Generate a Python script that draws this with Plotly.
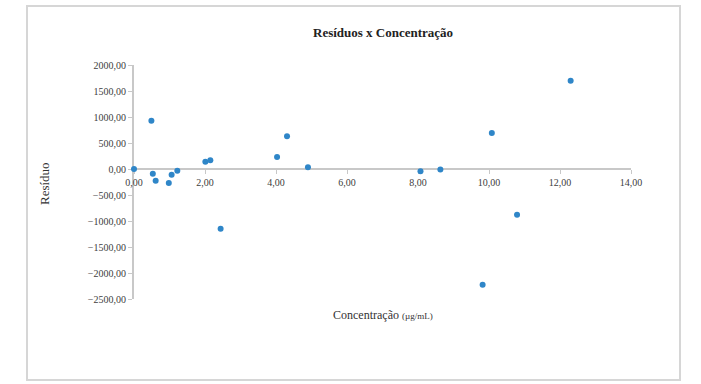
import plotly.graph_objects as go

# Residuals of the calibration fit against concentration
concentracao = [0.00, 0.49, 0.53, 0.61, 0.98, 1.06, 1.22, 2.01, 2.15, 2.44,
                4.03, 4.31, 4.90, 8.07, 8.63, 9.82, 10.08, 10.79, 12.30]
residuo = [0.0, 929.0, -90.0, -225.0, -270.0, -110.0, -33.0, 140.0, 167.0, -1148.0,
           230.0, 629.0, 33.0, -44.0, -8.0, -2225.0, 692.0, -879.0, 1698.0]

x_ticks = [0, 2, 4, 6, 8, 10, 12, 14]
y_ticks = [2000, 1500, 1000, 500, 0, -500, -1000, -1500, -2000, -2500]

W, H = 701, 384
L, R, T, B = 134, 70, 65, 85
pw, ph = W - L - R, H - T - B

def px(xp):
    return (xp - L) / pw

def py(yp):
    return (H - B - yp) / ph

serif = "Liberation Serif, Times New Roman, serif"
axis_grey = "#c8c8c8"

fig = go.Figure()
fig.add_trace(go.Scatter(
    x=concentracao, y=residuo, mode="markers",
    marker=dict(size=6, color="#2f86c8", line=dict(width=0)),
    cliponaxis=False,
    showlegend=False,
))

y0_pos = (0 - y_ticks[-1]) / (y_ticks[0] - y_ticks[-1])

fig.update_layout(
    width=W, height=H,
    margin=dict(l=L, r=R, t=T, b=B),
    paper_bgcolor="white", plot_bgcolor="white",
    separators=",.",
    font=dict(family=serif, color="#333333"),
    xaxis=dict(
        range=[0, 14], tickvals=x_ticks, tickformat=".2f",
        showgrid=False, zeroline=False,
        showline=True, linecolor=axis_grey, linewidth=2,
        ticks="outside", ticklen=4, tickcolor=axis_grey,
        tickfont=dict(size=10, family=serif, color="#404040"),
        anchor="free", position=y0_pos, layer="below traces",
    ),
    yaxis=dict(
        range=[-2500, 2000], tickvals=y_ticks, tickformat=".2f",
        showgrid=False, zeroline=False,
        showline=True, linecolor=axis_grey, linewidth=2,
        ticks="outside", ticklen=4, tickcolor=axis_grey,
        tickfont=dict(size=10, family=serif, color="#404040"),
        layer="below traces",
    ),
    shapes=[dict(
        type="rect", xref="paper", yref="paper",
        x0=px(27), x1=px(680), y0=py(380), y1=py(6),
        line=dict(color="#d6d6d6", width=2), fillcolor="rgba(0,0,0,0)",
        layer="below",
    )],
    annotations=[
        dict(text="<b>Resíduos x Concentração</b>", xref="paper", yref="paper",
             x=0.5, y=py(32), xanchor="center", yanchor="middle", showarrow=False,
             font=dict(size=13, family=serif, color="#222222")),
        dict(text="Concentração <span style='font-size:9px'>(µg/mL)</span>",
             xref="paper", yref="paper", x=0.5, y=py(315),
             xanchor="center", yanchor="middle", showarrow=False,
             font=dict(size=12, family=serif, color="#333333")),
        dict(text="Resíduo", xref="paper", yref="paper", x=px(44), y=py(184),
             xanchor="center", yanchor="middle",
             textangle=-90, showarrow=False,
             font=dict(size=13, family=serif, color="#333333")),
    ],
)

fig.write_html("out.html")
